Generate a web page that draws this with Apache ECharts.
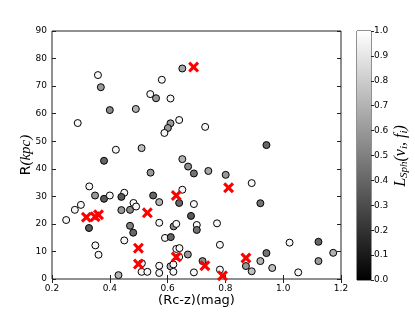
<!DOCTYPE html>
<html>
<head>
<meta charset="utf-8">
<script src="https://cdn.jsdelivr.net/npm/echarts@6/dist/echarts.min.js"></script>
<style>html,body{margin:0;padding:0;background:#fff;}#c{width:415px;height:312px;}</style>
</head>
<body>
<div id="c"></div>
<script>
// Circle points: colour (Rc-z), radius R (kpc), L_Sph value
var ptX = [0.289,0.359,0.369,0.400,0.490,0.421,0.510,0.540,0.560,0.580,0.610,0.651,0.640,0.610,0.601,0.589,0.651,0.380,0.730,0.942,
           0.249,0.279,0.300,0.329,0.349,0.380,0.400,0.328,0.350,0.361,0.430,0.450,0.440,0.440,0.470,0.482,0.491,0.470,0.481,0.450,
           0.511,0.510,0.530,0.541,0.550,0.571,0.571,0.571,0.571,0.591,0.611,0.621,0.630,0.640,0.651,0.671,0.691,0.681,0.691,0.701,
           0.701,0.630,0.641,0.640,0.670,0.610,0.620,0.620,0.691,0.741,0.801,0.891,0.921,0.771,0.781,0.721,0.781,0.871,0.891,0.921,
           0.942,0.962,1.022,1.052,1.122,1.122,1.173];
var ptY = [56.6,74.0,69.6,61.3,61.7,46.9,47.5,67.1,65.6,72.3,65.5,76.4,57.7,56.5,54.8,53.0,43.5,42.9,55.2,48.6,
           21.4,25.1,26.9,33.6,30.3,29.1,30.3,18.5,12.2,8.8,1.4,31.3,29.8,25.0,25.1,27.6,26.3,19.3,16.8,14.0,
           5.7,2.6,2.6,38.6,30.3,27.9,20.4,4.8,2.2,14.9,15.2,19.1,20.0,27.6,32.4,40.8,38.3,22.9,27.2,19.6,
           17.8,10.9,11.2,8.0,8.9,4.6,5.3,2.6,2.4,39.2,37.8,34.8,27.5,20.2,12.4,6.5,3.4,4.7,2.8,6.5,
           9.4,4.0,13.2,2.4,13.5,6.5,9.5];
var ptL = [0.97,0.97,0.60,0.55,0.70,0.97,0.75,0.97,0.60,0.97,0.97,0.65,0.97,0.60,0.60,0.97,0.70,0.40,0.97,0.40,
           0.97,0.97,0.97,0.97,0.60,0.35,0.97,0.35,0.97,0.97,0.70,0.97,0.35,0.60,0.55,0.97,0.97,0.50,0.40,0.97,
           0.97,0.97,0.97,0.60,0.40,0.70,0.97,0.97,0.97,0.97,0.40,0.55,0.97,0.40,0.97,0.55,0.45,0.35,0.97,0.97,
           0.45,0.97,0.97,0.97,0.60,0.70,0.97,0.97,0.97,0.65,0.60,0.97,0.45,0.97,0.97,0.55,0.97,0.60,0.75,0.70,
           0.45,0.75,0.97,0.97,0.40,0.60,0.70];
// Red crosses
var crossX = [0.690,0.319,0.349,0.361,0.530,0.499,0.499,0.630,0.630,0.811,0.729,0.790,0.871];
var crossY = [76.9,22.4,22.6,23.3,24.0,11.2,5.4,30.3,8.0,33.1,4.8,1.2,7.6];
// Colorbar
var cbarCategories = ['L'];
var cbarValues = [1];

var ptData = ptX.map(function(x,i){return [x, ptY[i], ptL[i]];});
var crossData = crossX.map(function(x,i){return [x, crossY[i]];});

var chart = echarts.init(document.getElementById('c'), null, {renderer:'canvas'});
var tickFont = {fontFamily:'DejaVu Sans', fontSize:9, color:'#000'};
var crossPath = 'path://M0,2L2,0L5,3L8,0L10,2L7,5L10,8L8,10L5,7L2,10L0,8L3,5Z';

chart.setOption({
  animation:false,
  backgroundColor:'#fff',
  grid:[
    {left:52, top:31, width:289, height:249, show:true, borderColor:'#222', borderWidth:1, backgroundColor:'transparent'},
    {left:357, top:31, width:14, height:249, show:true, borderColor:'#222', borderWidth:1, backgroundColor:'transparent'}
  ],
  visualMap:{type:'continuous', show:false, seriesIndex:0, dimension:2, min:0, max:1, inRange:{color:['#000000','#ffffff']}},
  xAxis:[
    {gridIndex:0, type:'value', position:'bottom', min:0.2, max:1.2, interval:0.2,
     axisLine:{show:false}, axisTick:{show:true, inside:true, length:4, lineStyle:{color:'#222'}},
     splitLine:{show:false},
     axisLabel:Object.assign({margin:5, formatter:function(v){return v.toFixed(1);}}, tickFont),
     name:'(Rc-z)(mag)', nameLocation:'middle', nameGap:15, nameMoveOverlap:false,
     nameTextStyle:{fontFamily:'DejaVu Sans', fontSize:13, color:'#000', verticalAlign:'top'}},
    {gridIndex:0, type:'value', position:'top', min:0.2, max:1.2, interval:0.2,
     axisLine:{show:false}, axisTick:{show:true, inside:true, length:4, lineStyle:{color:'#222'}},
     splitLine:{show:false}, axisLabel:{show:false}},
    {gridIndex:1, type:'category', data:cbarCategories, show:false}
  ],
  yAxis:[
    {gridIndex:0, type:'value', position:'left', min:0, max:90, interval:10,
     axisLine:{show:false}, axisTick:{show:true, inside:true, length:4, lineStyle:{color:'#222'}},
     splitLine:{show:false},
     axisLabel:Object.assign({margin:5}, tickFont),
     name:'{a|R}{b|(kpc)}', nameLocation:'middle', nameGap:18, nameRotate:90, nameMoveOverlap:false,
     nameTextStyle:{color:'#000', rich:{a:{fontFamily:'DejaVu Sans', fontSize:14, color:'#000'}, b:{fontFamily:'Liberation Serif', fontStyle:'italic', fontSize:15, color:'#000'}}}},
    {gridIndex:0, type:'value', position:'right', min:0, max:90, interval:10,
     axisLine:{show:false}, axisTick:{show:true, inside:true, length:4, lineStyle:{color:'#222'}},
     splitLine:{show:false}, axisLabel:{show:false}},
    {gridIndex:1, type:'value', position:'right', min:0, max:1, interval:0.1,
     axisLine:{show:false}, axisTick:{show:true, inside:false, length:3, lineStyle:{color:'#222'}},
     splitLine:{show:false},
     axisLabel:Object.assign({margin:3, formatter:function(v){return v.toFixed(1);}}, tickFont)}
  ],
  graphic:[
    {type:'text', x:401, y:156, rotation:Math.PI/2,
     style:{text:'{i|L}{s|Sph}{r|(}{i|v}{s|i}{r|, }{i|f}{s|i}{r|)}', align:'center', verticalAlign:'middle',
       rich:{i:{fontFamily:'Liberation Serif', fontStyle:'italic', fontSize:16, fill:'#000'},
             s:{fontFamily:'Liberation Serif', fontStyle:'italic', fontSize:11, fill:'#000', verticalAlign:'bottom', padding:[6,0,0,0]},
             r:{fontFamily:'Liberation Serif', fontStyle:'italic', fontSize:16, fill:'#000'}}}}
  ],
  series:[
    {type:'scatter', xAxisIndex:0, yAxisIndex:0, data:ptData, symbol:'circle', symbolSize:7,
     itemStyle:{borderColor:'#000', borderWidth:1, opacity:1}, z:2},
    {type:'scatter', xAxisIndex:0, yAxisIndex:0, data:crossData, symbol:crossPath, symbolSize:11,
     itemStyle:{color:'#ff0000', opacity:1}, z:3},
    {type:'bar', xAxisIndex:2, yAxisIndex:2, data:cbarValues, barWidth:'100%',
     itemStyle:{color:new echarts.graphic.LinearGradient(0,0,0,1,[{offset:0,color:'#ffffff'},{offset:1,color:'#000000'}])}}
  ]
});
</script>
</body>
</html>
